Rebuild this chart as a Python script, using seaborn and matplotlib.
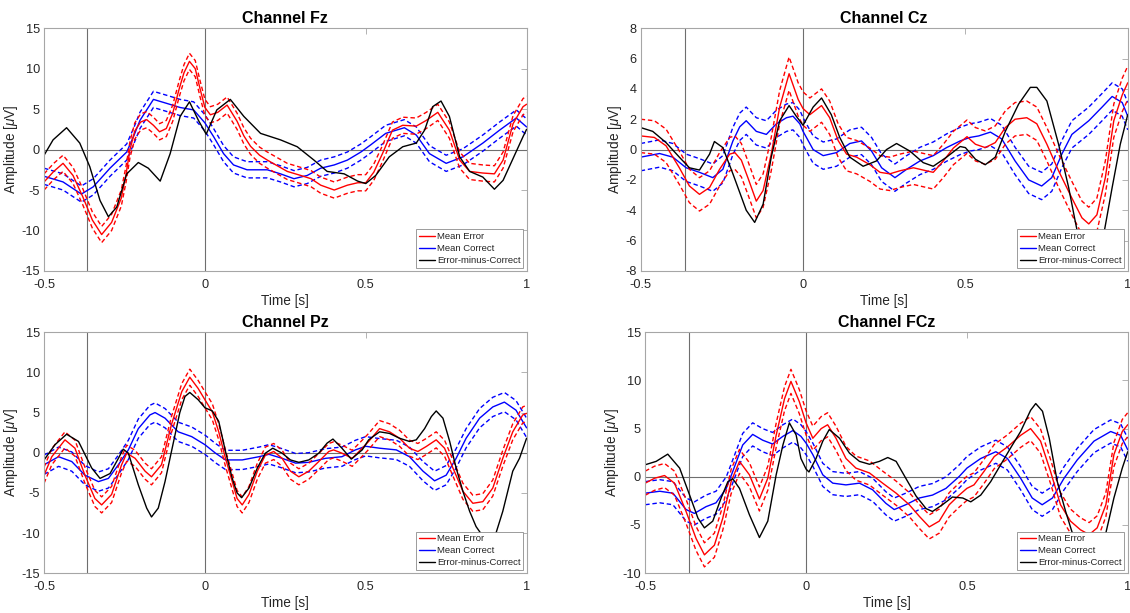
import numpy as np
import pandas as pd
import matplotlib
matplotlib.use("Agg")
import matplotlib.pyplot as plt
import seaborn as sns
from matplotlib.lines import Line2D

# ---------------- data (time in s, amplitude in microvolts) ----------------
fz_err_t = [-0.5,-0.47,-0.441,-0.41,-0.38,-0.35,-0.321,-0.29,-0.26,-0.245,-0.233,-0.218,-0.2,-0.181,-0.16,-0.141,-0.12,-0.1,-0.08,-0.065,-0.048,-0.03,-0.015,0,0.017,0.04,0.069,0.1,0.121,0.142,0.17,0.194,0.225,0.256,0.298,0.33,0.36,0.402,0.443,0.475,0.5,0.525,0.552,0.583,0.615,0.657,0.688,0.724,0.76,0.792,0.823,0.864,0.9,0.927,0.958,0.989,1.0]
fz_err_v = [-4.0,-2.7,-1.7,-3.2,-5.8,-8.7,-10.5,-9.0,-6.0,-3.0,0.0,2.3,3.4,3.7,3.0,2.2,2.6,4.5,7.5,9.5,10.9,10.0,7.5,5.2,4.3,4.6,5.5,3.5,1.7,0.4,-0.7,-1.3,-2.0,-2.7,-3.2,-3.6,-4.4,-5.0,-4.4,-4.1,-4.1,-2.8,-0.5,2.4,3.0,2.9,3.6,4.6,2.4,-1.3,-2.7,-2.9,-3.0,-1.3,3.2,5.3,5.6]
fz_cor_t = [-0.5,-0.441,-0.384,-0.347,-0.295,-0.243,-0.22,-0.202,-0.16,-0.118,-0.077,-0.035,0,0.027,0.058,0.089,0.131,0.194,0.235,0.277,0.318,0.36,0.402,0.443,0.485,0.516,0.562,0.62,0.657,0.698,0.75,0.802,0.864,0.916,0.968,1.0]
fz_cor_v = [-3.3,-4.0,-5.5,-4.6,-2.3,-0.3,1.8,3.6,6.2,5.7,5.2,4.9,3.3,1.6,-0.5,-1.9,-2.5,-2.5,-3.0,-3.6,-3.2,-2.3,-1.9,-1.3,-0.3,0.6,2.0,2.7,1.8,-0.5,-1.7,-0.9,0.8,2.4,3.9,2.8]
fz_dif_t = [-0.5,-0.472,-0.43,-0.389,-0.358,-0.326,-0.3,-0.274,-0.243,-0.207,-0.176,-0.139,-0.108,-0.077,-0.048,-0.02,0.004,0.037,0.079,0.121,0.173,0.235,0.287,0.339,0.38,0.433,0.475,0.5,0.531,0.573,0.615,0.657,0.683,0.708,0.734,0.76,0.792,0.823,0.864,0.9,0.927,0.958,0.989,1.0]
fz_dif_v = [-0.7,1.2,2.7,0.8,-2.1,-6.3,-8.3,-7.1,-3.0,-1.6,-2.3,-3.9,-0.5,4.1,5.9,3.6,1.9,4.9,6.2,4.1,2.0,1.2,0.35,-1.3,-2.7,-3.0,-3.9,-4.2,-3.2,-0.9,0.35,0.8,2.4,5.3,6.0,4.1,-0.9,-2.7,-3.4,-4.9,-3.8,-1.1,1.6,2.5]

cz_err_t = [-0.5,-0.458,-0.422,-0.381,-0.35,-0.319,-0.288,-0.257,-0.226,-0.21,-0.19,-0.17,-0.144,-0.123,-0.098,-0.072,-0.043,-0.015,0,0.021,0.057,0.082,0.108,0.134,0.165,0.206,0.237,0.267,0.298,0.34,0.38,0.401,0.432,0.463,0.505,0.531,0.561,0.592,0.623,0.653,0.689,0.72,0.751,0.787,0.828,0.859,0.88,0.905,0.931,0.957,0.983,1.0]
cz_err_v = [0.9,0.8,0.25,-1.2,-2.4,-2.95,-2.5,-1.3,-0.3,-0.2,-0.7,-1.85,-3.4,-2.7,-0.3,2.8,5.0,3.3,2.7,2.3,2.9,2.1,0.6,-0.3,-0.5,-1.0,-1.5,-1.6,-1.4,-1.2,-1.4,-1.5,-0.75,0.1,0.85,0.35,0.13,0.46,1.45,2.0,2.1,1.7,0.35,-1.4,-3.2,-4.5,-4.9,-4.3,-1.85,1.9,3.6,4.4]
cz_cor_t = [-0.5,-0.442,-0.401,-0.36,-0.319,-0.278,-0.247,-0.216,-0.195,-0.175,-0.144,-0.113,-0.082,-0.051,-0.031,-0.01,0,0.031,0.062,0.103,0.144,0.18,0.211,0.242,0.283,0.319,0.36,0.401,0.442,0.484,0.514,0.541,0.577,0.612,0.653,0.695,0.735,0.766,0.797,0.828,0.88,0.921,0.952,0.983,1.0]
cz_cor_v = [-0.5,-0.26,-0.5,-1.2,-1.5,-1.85,-1.3,0.57,1.5,1.9,1.2,1.0,1.7,2.1,2.2,1.7,1.2,0.0,-0.4,-0.2,0.4,0.57,-0.1,-1.2,-1.85,-1.3,-0.75,-0.4,0.13,0.57,0.8,0.9,1.15,0.7,-0.75,-2.0,-2.4,-1.85,-0.3,1.0,1.9,2.8,3.5,3.1,2.2]
cz_dif_t = [-0.5,-0.463,-0.422,-0.381,-0.35,-0.319,-0.288,-0.273,-0.247,-0.216,-0.175,-0.149,-0.123,-0.098,-0.072,-0.043,-0.021,0.0,0.031,0.057,0.087,0.113,0.144,0.185,0.226,0.257,0.288,0.329,0.37,0.401,0.442,0.484,0.5,0.531,0.561,0.592,0.623,0.664,0.7,0.72,0.751,0.787,0.818,0.838,0.859,0.885,0.926,0.952,0.977,1.0]
cz_dif_v = [1.45,1.2,0.46,-0.5,-1.2,-1.35,-0.3,0.53,0.13,-1.6,-4.0,-4.8,-3.6,-0.5,1.9,2.9,2.2,1.6,2.8,3.4,2.3,0.8,-0.5,-1.1,-0.75,0.0,0.4,-0.1,-0.86,-1.1,-0.5,0.2,0.13,-0.64,-1.0,-0.5,1.2,3.0,4.1,4.1,3.2,0.35,-2.5,-4.7,-6.9,-7.6,-5.6,-2.5,0.35,2.3]

pz_err_t = [-0.5,-0.476,-0.435,-0.404,-0.373,-0.342,-0.321,-0.29,-0.259,-0.243,-0.217,-0.186,-0.166,-0.135,-0.104,-0.072,-0.047,-0.021,0,0.023,0.043,0.064,0.085,0.1,0.116,0.137,0.163,0.188,0.214,0.24,0.266,0.292,0.323,0.354,0.385,0.4,0.426,0.458,0.489,0.509,0.543,0.574,0.605,0.636,0.662,0.688,0.719,0.745,0.771,0.802,0.833,0.864,0.895,0.926,0.957,0.988,1.0]
pz_err_v = [-2.8,-0.5,1.6,0.56,-2.8,-5.7,-6.5,-5.2,-1.5,-0.06,-0.7,-2.3,-3.0,-1.5,3.5,7.6,9.4,8.0,6.6,5.1,2.6,-0.7,-3.6,-5.7,-6.5,-5.2,-2.3,-0.3,0.15,-0.7,-2.3,-3.0,-2.3,-1.1,0.15,0.35,-0.06,-0.7,0.56,1.4,3.0,2.6,1.8,0.56,0.15,0.77,1.6,0.56,-1.9,-4.8,-6.3,-6.1,-4.4,-0.7,2.6,4.7,4.9]
pz_cor_t = [-0.5,-0.455,-0.414,-0.373,-0.331,-0.3,-0.269,-0.238,-0.207,-0.171,-0.155,-0.124,-0.083,-0.041,0,0.033,0.064,0.116,0.168,0.199,0.24,0.282,0.323,0.375,0.426,0.468,0.5,0.543,0.595,0.636,0.678,0.714,0.75,0.781,0.812,0.854,0.895,0.931,0.967,1.0]
pz_cor_v = [-1.5,-0.5,-1.1,-2.8,-3.6,-3.2,-1.5,0.35,3.0,4.7,5.0,4.3,2.6,2.0,1.0,-0.06,-0.9,-0.9,-0.5,-0.2,-0.7,-1.3,-1.2,-0.7,-0.5,0.35,0.8,0.56,0.35,-0.5,-2.3,-3.5,-2.8,-0.7,1.8,4.3,5.7,6.3,5.3,3.1]
pz_dif_t = [-0.5,-0.466,-0.43,-0.393,-0.352,-0.326,-0.295,-0.269,-0.254,-0.238,-0.207,-0.181,-0.166,-0.145,-0.124,-0.104,-0.078,-0.062,-0.047,-0.021,0,0.023,0.043,0.064,0.085,0.1,0.114,0.137,0.163,0.188,0.211,0.24,0.266,0.292,0.323,0.354,0.38,0.398,0.426,0.455,0.489,0.509,0.543,0.574,0.605,0.636,0.657,0.683,0.704,0.719,0.74,0.761,0.781,0.802,0.823,0.843,0.864,0.885,0.905,0.926,0.957,0.978,1.0]
pz_dif_v = [-0.9,1.0,2.3,1.4,-1.9,-3.2,-2.6,-0.7,0.44,-0.06,-4.0,-6.9,-8.0,-6.9,-3.6,0.15,5.0,7.0,7.5,6.6,5.6,5.2,3.9,0.15,-3.2,-5.0,-5.6,-4.4,-1.9,-0.06,0.56,-0.06,-0.9,-1.2,-0.9,-0.06,1.2,1.7,0.56,-0.8,0.35,1.6,2.6,2.4,1.8,1.4,1.6,3.0,4.5,5.2,4.3,1.4,-1.9,-4.8,-7.3,-9.2,-10.4,-10.8,-10.0,-7.3,-2.3,-0.7,1.8]

fcz_err_t = [-0.5,-0.471,-0.44,-0.409,-0.373,-0.342,-0.316,-0.285,-0.259,-0.233,-0.207,-0.176,-0.145,-0.119,-0.093,-0.067,-0.047,-0.021,0,0.021,0.047,0.067,0.093,0.124,0.155,0.197,0.238,0.28,0.321,0.352,0.383,0.414,0.445,0.476,0.5,0.522,0.553,0.585,0.626,0.667,0.698,0.729,0.76,0.791,0.822,0.853,0.88,0.905,0.932,0.957,0.983,1.0]
fcz_err_v = [-0.66,-0.15,0.13,-0.66,-3.6,-6.4,-8.1,-7.1,-4.3,-0.5,1.6,0.2,-2.3,-0.15,4.3,8.1,9.9,7.8,5.6,4.0,5.0,5.4,4.0,1.9,0.9,0.4,-0.66,-1.7,-2.9,-4.1,-5.2,-4.6,-2.9,-1.9,-1.2,-0.84,0.55,2.1,3.1,4.3,5.0,3.7,0.55,-2.9,-4.6,-5.5,-6.0,-5.3,-2.9,2.3,4.7,5.4]
fcz_cor_t = [-0.5,-0.455,-0.414,-0.373,-0.347,-0.311,-0.28,-0.248,-0.228,-0.197,-0.166,-0.135,-0.104,-0.072,-0.041,-0.016,0,0.021,0.052,0.083,0.124,0.166,0.207,0.248,0.274,0.31,0.352,0.393,0.435,0.476,0.5,0.543,0.59,0.626,0.667,0.703,0.734,0.766,0.802,0.843,0.895,0.947,0.978,1.0]
fcz_cor_v = [-1.7,-1.5,-1.7,-3.4,-3.8,-3.1,-2.7,-1.2,0.55,3.3,4.4,3.8,3.4,4.2,4.8,4.2,3.5,2.3,0.2,-0.66,-0.84,-0.66,-1.35,-2.75,-3.4,-2.9,-2.2,-1.9,-1.2,0.03,0.9,1.9,2.6,1.9,-0.15,-2.2,-2.9,-2.2,-0.15,1.75,3.7,4.7,4.3,2.8]
fcz_dif_t = [-0.5,-0.466,-0.43,-0.393,-0.362,-0.336,-0.316,-0.29,-0.264,-0.243,-0.228,-0.207,-0.176,-0.145,-0.119,-0.093,-0.072,-0.052,-0.031,-0.016,0,0.009,0.031,0.052,0.072,0.104,0.135,0.166,0.197,0.228,0.254,0.28,0.31,0.342,0.373,0.393,0.424,0.455,0.487,0.512,0.543,0.574,0.605,0.636,0.667,0.698,0.714,0.735,0.756,0.781,0.807,0.833,0.86,0.885,0.905,0.926,0.957,0.983,1.0]
fcz_dif_v = [1.25,1.6,2.35,0.9,-1.9,-4.3,-5.3,-4.6,-2.2,-0.5,-0.2,-1.2,-3.95,-6.3,-4.6,0.2,3.3,5.6,4.35,1.9,0.8,0.5,1.9,3.7,4.9,4.0,2.45,1.6,1.3,1.6,2.0,1.6,-0.15,-2.0,-3.3,-3.6,-2.9,-2.1,-2.2,-2.6,-1.9,-0.5,1.25,3.0,4.7,6.9,7.6,6.8,4.0,-0.5,-3.6,-6.4,-8.6,-9.3,-8.8,-6.7,-2.2,0.9,2.6]

# standard-error half widths of the dashed bands (error, correct)
se_err = {"Fz": 1.0, "Cz": 1.1, "Pz": 1.0, "FCz": 1.25}
se_cor = {"Fz": 1.0, "Cz": 0.9, "Pz": 1.2, "FCz": 1.2}

channels = ["Fz", "Cz", "Pz", "FCz"]
ylims = {"Fz": (-15, 15), "Cz": (-8, 8), "Pz": (-15, 15), "FCz": (-10, 15)}
yticks = {"Fz": [-15, -10, -5, 0, 5, 10, 15], "Cz": [-8, -6, -4, -2, 0, 2, 4, 6, 8],
          "Pz": [-15, -10, -5, 0, 5, 10, 15], "FCz": [-10, -5, 0, 5, 10, 15]}
xticks = [-0.5, 0, 0.5, 1]
xticklabels = ["-0.5", "0", "0.5", "1"]
vlines = [-0.365, 0.0]
legend_labels = ["Mean Error", "Mean Correct", "Error-minus-Correct"]

data = {
    "Fz": (fz_err_t, fz_err_v, fz_cor_t, fz_cor_v, fz_dif_t, fz_dif_v),
    "Cz": (cz_err_t, cz_err_v, cz_cor_t, cz_cor_v, cz_dif_t, cz_dif_v),
    "Pz": (pz_err_t, pz_err_v, pz_cor_t, pz_cor_v, pz_dif_t, pz_dif_v),
    "FCz": (fcz_err_t, fcz_err_v, fcz_cor_t, fcz_cor_v, fcz_dif_t, fcz_dif_v),
}

# ---------------- style ----------------
sns.set_theme(style="white")
plt.rcParams["font.family"] = ["Liberation Sans", "DejaVu Sans"]
plt.rcParams["mathtext.fontset"] = "custom"
plt.rcParams["mathtext.it"] = "Liberation Sans:italic"
plt.rcParams["mathtext.rm"] = "Liberation Sans"

RED = (1, 0, 0)
BLUE = (0, 0, 1)
BLACK = (0, 0, 0)
FRAME = "#a6a6a6"
TXT = "#262626"
REF = "#6e6e6e"
DASH = (0, (3.2, 2.0))

fig = plt.figure(figsize=(11.3, 6.13), dpi=100)
positions = {
    "Fz": [0.039, 0.558, 0.427, 0.396],
    "Cz": [0.567, 0.558, 0.431, 0.396],
    "Pz": [0.039, 0.065, 0.427, 0.393],
    "FCz": [0.571, 0.065, 0.427, 0.393],
}

for ch in channels:
    ax = fig.add_axes(positions[ch])
    et, ev, ct, cv, dt, dv = data[ch]
    ev = np.asarray(ev); cv = np.asarray(cv)
    # reference lines
    for xv in vlines:
        ax.axvline(xv, color=REF, lw=0.8, zorder=1)
    ax.axhline(0, color=REF, lw=0.8, zorder=1)

    # correct (blue)
    sns.lineplot(x=ct, y=cv + se_cor[ch], color=BLUE, lw=1.0, linestyle=DASH, ax=ax, estimator=None, sort=False)
    sns.lineplot(x=ct, y=cv - se_cor[ch], color=BLUE, lw=1.0, linestyle=DASH, ax=ax, estimator=None, sort=False)
    sns.lineplot(x=ct, y=cv, color=BLUE, lw=1.0, ax=ax, estimator=None, sort=False)
    # error (red)
    sns.lineplot(x=et, y=ev + se_err[ch], color=RED, lw=1.0, linestyle=DASH, ax=ax, estimator=None, sort=False)
    sns.lineplot(x=et, y=ev - se_err[ch], color=RED, lw=1.0, linestyle=DASH, ax=ax, estimator=None, sort=False)
    sns.lineplot(x=et, y=ev, color=RED, lw=1.0, ax=ax, estimator=None, sort=False)
    # difference (black)
    sns.lineplot(x=dt, y=dv, color=BLACK, lw=1.0, ax=ax, estimator=None, sort=False)

    ax.set_xlim(-0.5, 1.0)
    ax.set_ylim(*ylims[ch])
    ax.set_xticks(xticks)
    ax.set_xticklabels(xticklabels)
    ax.set_yticks(yticks[ch])
    ax.set_yticklabels([str(v) for v in yticks[ch]])
    ax.tick_params(direction="in", length=4, width=0.6, color=FRAME, labelsize=9.2,
                   labelcolor=TXT, top=True, right=True)
    ax.tick_params(axis="x", pad=6)
    ax.tick_params(axis="y", pad=3)
    for s in ax.spines.values():
        s.set_color(FRAME)
        s.set_linewidth(0.8)
    ax.set_xlabel("Time [s]", fontsize=9.8, color=TXT, labelpad=2)
    ax.set_ylabel(r"Amplitude [$\mu$V]", fontsize=9.8, color=TXT, labelpad=1)
    ax.set_title(f"Channel {ch}", fontsize=11.5, fontweight="bold", color="black", pad=4)

    handles = [Line2D([], [], color=RED, lw=1.0), Line2D([], [], color=BLUE, lw=1.0),
               Line2D([], [], color=BLACK, lw=1.0)]
    leg = ax.legend(handles, legend_labels, loc="lower right", fontsize=6.8, frameon=True,
                    fancybox=False, framealpha=1, edgecolor="#8c8c8c", borderpad=0.3,
                    labelspacing=0.3, handlelength=1.7, handletextpad=0.2,
                    borderaxespad=0.35)
    leg.get_frame().set_linewidth(0.6)
    for t in leg.get_texts():
        t.set_color(TXT)

fig.savefig("out.png", dpi=100)
